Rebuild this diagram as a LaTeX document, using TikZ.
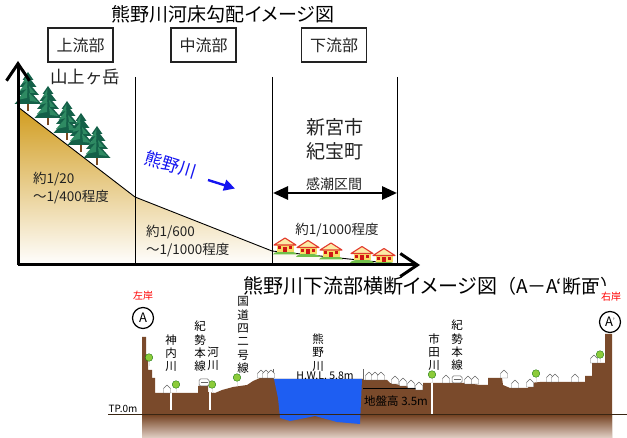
\documentclass[tikz,border=0pt]{standalone}
\usepackage{fontspec}
\setmainfont{Noto Sans CJK JP}
\newfontfamily\jpprop[RawFeature=+palt]{Noto Sans CJK JP}
\usetikzlibrary{arrows.meta}

\definecolor{inkgray}{HTML}{222222}
\definecolor{slopetop}{HTML}{D19C1E}
\definecolor{pinedark}{HTML}{146048}
\definecolor{pinelight}{HTML}{2E8A62}
\definecolor{trunkbrown}{HTML}{7B4A22}
\definecolor{wallyellow}{HTML}{F7DC66}
\definecolor{roofyellow}{HTML}{FBEBA6}
\definecolor{roofred}{HTML}{E23A2E}
\definecolor{doorred}{HTML}{D01515}
\definecolor{grassgreen}{HTML}{72C04A}
\definecolor{soil}{HTML}{7A4A2B}
\definecolor{soilpale}{HTML}{E2D0C6}
\definecolor{riverblue}{HTML}{1E5EF2}
\definecolor{flowblue}{HTML}{1414F0}
\definecolor{leafgreen}{HTML}{8CCB3A}
\definecolor{hutline}{HTML}{666666}

\tikzset{
  sectionbox/.style={draw=inkgray, line width=1.3pt, minimum width=65pt, minimum height=34pt,
    inner sep=0pt, font=\fontsize{16}{16}\selectfont, text=inkgray},
  plain/.style={inner sep=0pt, text=inkgray},
  vlabel/.style={inner sep=0pt, align=center, text=black, font=\fontsize{11.5}{13.3}\selectfont},
  divider/.style={line width=0.9pt, black},
  axisline/.style={line width=3pt, black, -{Straight Barb[length=17pt, width=23pt, line width=3pt]}},
  pine/.pic={
    \draw[trunkbrown, line width=1.6pt] (0,0) -- (0,-28);
    \fill[pinedark] (0,-39) -- (-5.5,-31) -- (5.5,-31) -- cycle;
    \fill[pinedark] (0,-35) -- (-8.5,-24) -- (8.5,-24) -- cycle;
    \fill[pinedark] (0,-29) -- (-11,-16) -- (11,-16) -- cycle;
    \fill[pinedark] (0,-22) -- (-13.5,-7) -- (13.5,-7) -- cycle;
    \fill[pinelight] (-0.5,-36) -- (-5.5,-28) -- (-1,-29) -- cycle;
    \fill[pinelight] (-0.5,-30) -- (-8.5,-20) -- (-1,-22) -- cycle;
    \fill[pinelight] (-0.5,-23) -- (-11,-11) -- (-1,-13) -- cycle;
    \fill[pinelight] (1,-25) -- (7,-18) -- (2,-18) -- cycle;
    \fill[pinelight] (1,-18) -- (10,-9) -- (2,-10) -- cycle;
  },
  cottage/.pic={
    \fill[grassgreen] (-12,1.5) .. controls (-11,-3) and (11,-3) .. (12,1.5) -- cycle;
    \fill[wallyellow] (-8.5,-1) rectangle (8.5,-9);
    \filldraw[fill=roofyellow, draw=roofred, line width=1.1pt, line join=round]
      (-11,-8) -- (0,-15) -- (11,-8) -- cycle;
    \fill[doorred] (-1.6,-1) rectangle (1.6,-6);
    \fill[doorred] (-7,-3.5) rectangle (-3.8,-6.5);
    \fill[doorred] (3.8,-3.5) rectangle (7,-6.5);
  },
  hut/.pic={
    \filldraw[fill=white, draw=hutline, line width=0.45pt, line join=round]
      (-3.5,0) -- (-3.5,-4.5) -- (0,-8) -- (3.5,-4.5) -- (3.5,0) -- cycle;
  },
  sapling/.pic={
    \draw[white!80!gray, line width=1pt] (0,0) -- (0,-6);
    \filldraw[fill=leafgreen, draw=green!40!black, line width=0.3pt] (0,-8.5) circle (3.8pt);
  },
  railcar/.pic={
    \filldraw[fill=white, draw=hutline, line width=0.5pt, rounded corners=1.5pt] (-5,0) rectangle (5,-7);
    \draw[hutline, line width=0.4pt] (-3.5,-4) -- (3.5,-4);
  },
}

\begin{document}
\begin{tikzpicture}[x=1pt, y=-1pt]
\useasboundingbox (0,0) rectangle (627,438);

% ---------- longitudinal gradient sketch ----------
\node[plain, font=\jpprop\fontsize{19}{19}\selectfont, text=black] (title1) at (223,14) {熊野川河床勾配イメージ図};

\node[sectionbox] (upper) at (80.5,45) {上流部};
\node[sectionbox] (middle) at (203.5,45) {中流部};
\node[sectionbox] (lower) at (334,45) {下流部};

% river bed profile with fading fill
\shade[top color=slopetop, bottom color=white]
  (18,107) -- (135,197) -- (272,251) -- (397,264) -- (397,265) -- (18,265) -- cycle;
\draw[line width=0.9pt] (18,107) -- (135,197) -- (272,251) -- (397,264);

% reach dividers
\coordinate (d1t) at (135,77); \coordinate (d1b) at (135,265);
\coordinate (d2t) at (272,77); \coordinate (d2b) at (272,265);
\coordinate (d3t) at (397,77); \coordinate (d3b) at (397,265);
\draw[divider] (d1t) -- (d1b);
\draw[divider] (d2t) -- (d2b);
\draw[divider] (d3t) -- (d3b);

% forest on the upper slope
\pic at (28,111) {pine};
\pic at (48,125) {pine};
\pic at (67,140) {pine};
\pic at (81,152) {pine};
\pic at (97,165) {pine};

% houses on the lower reach
\pic at (285,253) {cottage};
\pic at (308,255.5) {cottage};
\pic at (331,258) {cottage};
\pic at (362,261.5) {cottage};
\pic at (384,263.5) {cottage};

% axes
\coordinate (origin) at (18,265);
\coordinate (ytip) at (18,61);
\coordinate (xtip) at (420,265);
\draw[axisline] (origin) -- (ytip);
\draw[axisline] (origin) -- (xtip);

% labels
\node[plain, font=\fontsize{17.5}{17.5}\selectfont] (peak) at (85,77) {山上ヶ岳};
\node[plain, font=\fontsize{13.5}{17.5}\selectfont, align=left, anchor=west] (grad1) at (33,188) {約1/20\\～1/400程度};
\node[plain, font=\fontsize{13.5}{17.5}\selectfont, align=left, anchor=west] (grad2) at (146,241) {約1/600\\～1/1000程度};
\node[plain, font=\fontsize{19}{24}\selectfont, align=center] (city) at (335,139) {新宮市\\紀宝町};
\node[plain, font=\fontsize{14}{14}\selectfont] (tidal) at (334,184) {感潮区間};
\node[plain, font=\fontsize{13.5}{13.5}\selectfont] (grad3) at (337,230) {約1/1000程度};

\coordinate (tl) at (273,193); \coordinate (tr) at (397,193);
\draw[line width=2.8pt, {Triangle[length=15pt, width=13pt]}-{Triangle[length=15pt, width=13pt]}] (tl) -- (tr);

\node[plain, text=flowblue, rotate=-17, font=\fontsize{17.5}{17.5}\selectfont] (flow) at (171,165) {熊野川};
\coordinate (fa) at (208,180); \coordinate (fb) at (235,188.5);
\draw[flowblue, line width=2.4pt, -{Triangle[length=11pt, width=11pt]}] (fa) -- (fb);

% ---------- cross section of the lower reach ----------
\node[plain, font=\fontsize{19}{19}\selectfont, text=black, anchor=west] (title2) at (243,286)
  {{\jpprop\fontsize{20}{20}\selectfont 熊野川下流部横断イメージ図}（A－A‘断面）};

% ground
\fill[soil]
  (142,438) -- (142,337) -- (146,337) -- (146,355) -- (148,355) -- (148,370) -- (152,370)
  -- (152,378) -- (155,378) -- (155,393) -- (198,393) -- (198,386) -- (208,386) -- (208,392)
  -- (215,393) -- (222,390) -- (233,387) -- (247,385) -- (253,381) -- (260,378) -- (273,378)
  -- (273,379) -- (363,379) -- (363,380) -- (387,380) -- (390,383) -- (400,385) -- (410,387)
  -- (420,390) -- (423,390) -- (423,383) -- (467,383) -- (480,385) -- (488,385) -- (488,378)
  -- (502,378) -- (503,385) -- (510,388) -- (528,388) -- (530,383) -- (540,382) -- (585,382)
  -- (585,376) -- (592,376) -- (592,363) -- (605,363) -- (605,334) -- (612,334) -- (612,438) -- cycle;
\shade[top color=soil, bottom color=soilpale] (142,416) rectangle (612,438);

% river water
\fill[riverblue] (274,379) -- (278,398) -- (280,418) -- (290,421) -- (315,416) -- (337,422)
  -- (360,424) -- (362,379) -- cycle;

% levee walls
\coordinate (lw1) at (273,369); \coordinate (lw2) at (273,379);
\coordinate (rw1) at (363,369); \coordinate (rw2) at (363,380);
\draw[hutline, line width=1pt] (lw1) -- (lw2);
\draw[hutline, line width=1pt] (rw1) -- (rw2);

% small channels
\coordinate (c1t) at (171,393); \coordinate (c1b) at (171,410);
\coordinate (c2t) at (210,392); \coordinate (c2b) at (210,410);
\coordinate (c3t) at (432,383); \coordinate (c3b) at (432,415);
\draw[white, line width=2.5pt] (c1t) -- (c1b);
\draw[white, line width=2.5pt] (c2t) -- (c2b);
\draw[white, line width=2.5pt] (c3t) -- (c3b);

% datum line
\coordinate (tpl) at (108,414); \coordinate (tpr) at (627,414);
\draw[black!70!brown, line width=0.9pt] (tpl) -- (tpr);
\node[plain, text=black, font=\fontsize{10}{10}\selectfont] (tp) at (123,409) {TP.0m};

% ground height marker
\coordinate (gl) at (363,389); \coordinate (gr) at (420,389);
\draw[black, line width=1pt] (gl) -- (gr);
\node[plain, text=black, font=\fontsize{11.5}{11.5}\selectfont, anchor=west] (ground) at (364,401) {地盤高 3.5m};
\node[plain, text=black, font=\fontsize{10.5}{10.5}\selectfont] (hwl) at (325,375.5) {H.W.L. 5.8m};

% trees, houses and trains along the section
\pic at (149,366) {sapling};
\pic at (176,393) {sapling};
\pic at (212,393) {sapling};
\pic at (237,386) {sapling};
\pic at (432,383) {sapling};
\pic at (536,382) {sapling};
\pic at (600,363) {sapling};

\pic at (167,393) {hut};
\pic at (261,378) {hut};
\pic at (266,378) {hut};
\pic at (271,378) {hut};
\pic at (369,380) {hut};
\pic at (375,380) {hut};
\pic at (381,380) {hut};
\pic at (395,384) {hut};
\pic at (403,386) {hut};
\pic at (411,388) {hut};
\pic at (419,390) {hut};
\pic at (446,383) {hut};
\pic at (468,384) {hut};
\pic at (475,384) {hut};
\pic at (504,378) {hut};
\pic at (515,388) {hut};
\pic at (530,387) {hut};
\pic at (550,382) {hut};
\pic at (555,382) {hut};
\pic at (575,382) {hut};
\pic at (594,363) {hut};

\pic at (204,386) {railcar};
\pic at (457,383) {railcar};

% place names
\node[vlabel] (kannai) at (171,353) {神\\内\\川};
\node[vlabel] (kisei1) at (200,346.5) {紀\\勢\\本\\線};
\node[vlabel] (kasen) at (213,358.5) {河\\川};
\node[vlabel] (route42) at (243,335) {国\\道\\四\\二\\号\\線};
\node[vlabel] (kumano) at (318,352.5) {熊\\野\\川};
\node[vlabel] (ichida) at (434,352) {市\\田\\川};
\node[vlabel] (kisei2) at (457,345.5) {紀\\勢\\本\\線};

% bank markers
\node[plain, text=red, fill=white, inner sep=2pt, font=\fontsize{10}{10}\selectfont] (leftbank) at (143,296) {左岸};
\node[plain, text=red, fill=white, inner xsep=6pt, inner ysep=6pt, font=\fontsize{10}{10}\selectfont] (rightbank) at (611,297) {右岸};
\node[draw=black, circle, line width=1.2pt, minimum size=21pt, inner sep=0pt, text=black,
  font=\fontsize{13}{13}\selectfont] (markA) at (143,318) {A};
\node[draw=black, circle, line width=1.2pt, minimum size=21pt, inner sep=0pt, text=black,
  font=\fontsize{13}{13}\selectfont] (markB) at (610,322) {A\raisebox{3pt}{\fontsize{7}{7}\selectfont’}};

\end{tikzpicture}
\end{document}
